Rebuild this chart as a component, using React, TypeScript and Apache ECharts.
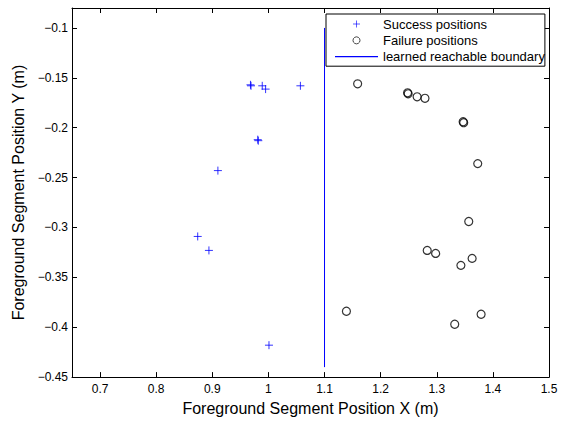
import React, { useEffect, useRef } from "react";
import * as echarts from "echarts";

const successX = [0.968, 0.969, 0.989, 0.995, 0.981, 0.982, 0.910, 1.057, 0.874, 0.894, 1.001];
const successY = [-0.157, -0.158, -0.158, -0.1613, -0.212, -0.213, -0.243, -0.158, -0.309, -0.323, -0.418];

const failureX = [1.159, 1.248, 1.249, 1.265, 1.279, 1.347, 1.348, 1.373, 1.357, 1.283, 1.298, 1.363, 1.343, 1.139, 1.379, 1.332];
const failureY = [-0.156, -0.165, -0.166, -0.169, -0.1705, -0.194, -0.195, -0.236, -0.294, -0.323, -0.326, -0.331, -0.338, -0.384, -0.387, -0.397];

const boundaryX = [1.1, 1.1];
const boundaryY = [-0.44, -0.1];

const xTicks = [0.7, 0.8, 0.9, 1.0, 1.1, 1.2, 1.3, 1.4, 1.5];
const yTicks = [-0.45, -0.4, -0.35, -0.3, -0.25, -0.2, -0.15, -0.1];

const FONT = "'Liberation Sans', Arial, Helvetica, sans-serif";

const fmt = (v: number) => String(Number(v.toFixed(3))).replace("-", "\u2212");

export default function App() {
  const ref = useRef<HTMLDivElement>(null);
  useEffect(() => {
    if (!ref.current) return;
    const chart = echarts.init(ref.current, undefined, { renderer: "svg" });
    const tickStyle = { show: true, inside: true, length: 5, lineStyle: { color: "#000", width: 1 } };
    const axisLineStyle = { show: true, lineStyle: { color: "#000", width: 1 } };
    chart.setOption({
      animation: false,
      backgroundColor: "#fff",
      textStyle: { fontFamily: FONT },
      grid: { left: 72, right: 22, top: 8, bottom: 37, containLabel: false },
      legend: {
        orient: "vertical",
        left: 326,
        top: 14,
        padding: [3.5, 0, 3, 9],
        itemGap: 3.35,
        itemWidth: 43,
        itemHeight: 7,
        symbolKeepAspect: true,
        borderColor: "#000",
        borderWidth: 1,
        borderRadius: 0,
        backgroundColor: "#fff",
        textStyle: { fontFamily: FONT, fontSize: 13, color: "#000" },
        data: [
          { name: "Success positions", itemStyle: { color: "none", borderColor: "#0000ff", borderWidth: 0.8 } },
          { name: "Failure positions", itemStyle: { color: "none", borderColor: "#000", borderWidth: 0.9 } },
          { name: "learned reachable boundary", icon: "path://M0,0L43,0L43,1.2L0,1.2Z", itemStyle: { color: "#0000ff" } },
        ],
      },
      xAxis: [
        {
          type: "value",
          min: 0.65,
          max: 1.5,
          name: "Foreground Segment Position X (m)",
          nameLocation: "middle",
          nameGap: 19,
          nameTextStyle: { fontFamily: FONT, fontSize: 16, color: "#000" },
          axisLine: axisLineStyle,
          axisTick: { ...tickStyle, customValues: xTicks },
          axisLabel: { customValues: xTicks, formatter: fmt, fontFamily: FONT, fontSize: 12, color: "#000", margin: 6 },
          splitLine: { show: false },
        },
        {
          type: "value",
          position: "top",
          min: 0.65,
          max: 1.5,
          axisLine: axisLineStyle,
          axisTick: { ...tickStyle, customValues: xTicks },
          axisLabel: { show: false, customValues: xTicks },
          splitLine: { show: false },
        },
      ],
      yAxis: [
        {
          type: "value",
          min: -0.45,
          max: -0.08,
          name: "Foreground Segment Position Y (m)",
          nameLocation: "middle",
          nameGap: 43,
          nameTextStyle: { fontFamily: FONT, fontSize: 16, color: "#000" },
          axisLine: axisLineStyle,
          axisTick: { ...tickStyle, customValues: yTicks },
          axisLabel: { customValues: yTicks, formatter: fmt, fontFamily: FONT, fontSize: 12, color: "#000", margin: 4 },
          splitLine: { show: false },
        },
        {
          type: "value",
          position: "right",
          min: -0.45,
          max: -0.08,
          axisLine: axisLineStyle,
          axisTick: { ...tickStyle, customValues: yTicks },
          axisLabel: { show: false, customValues: yTicks },
          splitLine: { show: false },
        },
      ],
      series: [
        {
          name: "Success positions",
          type: "scatter",
          symbol: "path://M0,5L10,5M5,0L5,10",
          symbolSize: 8,
          itemStyle: { color: "none", borderColor: "#0000ff", borderWidth: 1 },
          data: successX.map((x, i) => [x, successY[i]]),
        },
        {
          name: "Failure positions",
          type: "scatter",
          symbol: "circle",
          symbolSize: 8,
          itemStyle: { color: "none", borderColor: "#000", borderWidth: 1.2 },
          data: failureX.map((x, i) => [x, failureY[i]]),
        },
        {
          name: "learned reachable boundary",
          type: "line",
          symbol: "none",
          lineStyle: { color: "#0000ff", width: 1 },
          itemStyle: { color: "#0000ff" },
          data: boundaryX.map((x, i) => [x, boundaryY[i]]),
        },
      ],
    });
    return () => chart.dispose();
  }, []);
  return <div ref={ref} style={{ width: 571, height: 421, position: "absolute", left: 0, top: 0 }} />;
}
